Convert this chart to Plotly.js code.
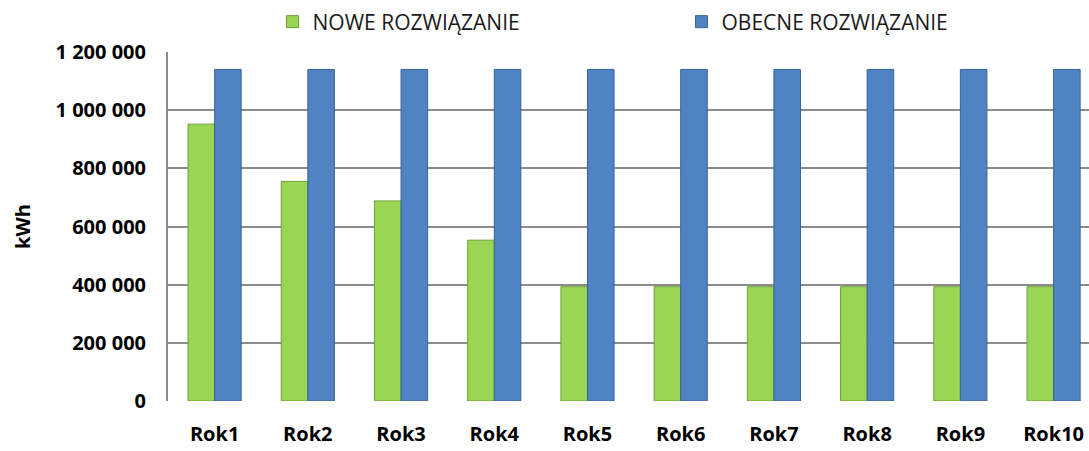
<!DOCTYPE html>
<html>
<head>
<meta charset="utf-8">
<script src="https://cdn.plot.ly/plotly-3.0.1.min.js"></script>
<style>html,body{margin:0;padding:0;background:#fff;overflow:hidden}</style>
</head>
<body>
<div id="chart" style="width:1089px;height:451px"></div>
<script>
const categories = ["Rok1","Rok2","Rok3","Rok4","Rok5","Rok6","Rok7","Rok8","Rok9","Rok10"];
const noweValues = [952000, 755000, 688000, 553000, 393000, 393000, 393000, 393000, 393000, 393000];
const obecneValues = [1140000, 1140000, 1140000, 1140000, 1140000, 1140000, 1140000, 1140000, 1140000, 1140000];
const seriesNames = ["NOWE ROZWIĄZANIE", "OBECNE ROZWIĄZANIE"];
const yTicks = [0, 200000, 400000, 600000, 800000, 1000000, 1200000];

const traces = [
  {type:"bar", name:seriesNames[0], x:categories, y:noweValues,
   marker:{color:"#98D654", line:{color:"#6E9F38", width:1}}},
  {type:"bar", name:seriesNames[1], x:categories, y:obecneValues,
   marker:{color:"#5083C3", line:{color:"#3A6396", width:1}}}
];

const layout = {
  width:1089, height:451,
  margin:{l:168, r:0, t:52, b:50, pad:0, autoexpand:false},
  paper_bgcolor:"#fff", plot_bgcolor:"#fff",
  separators:", ",
  barmode:"group", bargap:0.43, bargroupgap:0,
  font:{family:"Open Sans, Liberation Sans, sans-serif", color:"#000"},
  showlegend:true,
  legend:{orientation:"h", x:0.1135, xanchor:"left", y:1.086, yanchor:"middle",
    entrywidth:364, entrywidthmode:"pixels",
    font:{size:21, color:"#1a1a1a", family:"Open Sans, sans-serif"}},
  xaxis:{type:"category", range:[-0.5, 9.38], showgrid:false, zeroline:false, automargin:false,
    showline:false, ticks:"", tickfont:{size:20, family:"Open Sans, sans-serif", weight:"bold"},
    ticklabelstandoff:19},
  yaxis:{range:[0,1200000], tickvals:yTicks, tickformat:",d", showgrid:true, automargin:false,
    gridcolor:"#8C8C8C", gridwidth:2, zeroline:false, showline:true, linecolor:"#8C8C8C",
    linewidth:2, ticks:"", ticklabelstandoff:16,
    tickfont:{size:20, family:"Open Sans, sans-serif", weight:"bold"},
    title:{text:"kWh", font:{size:20, family:"Open Sans, sans-serif", weight:"bold"}, standoff:20}}
};

Plotly.newPlot("chart", traces, layout, {displayModeBar:false, staticPlot:true});
</script>
</body>
</html>
